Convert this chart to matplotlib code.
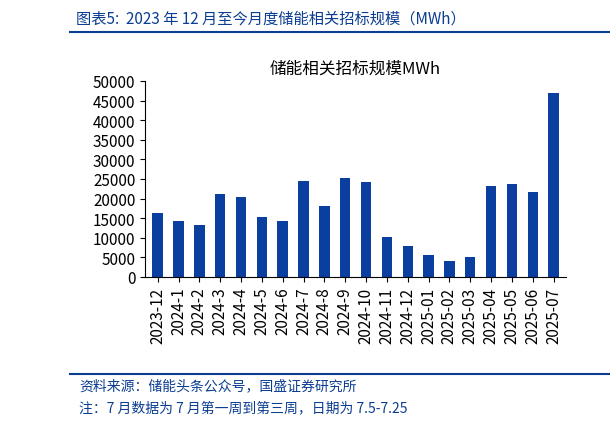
import matplotlib
matplotlib.use("Agg")
import matplotlib.pyplot as plt

plt.rcParams['font.family'] = ['Noto Sans CJK SC', 'DejaVu Sans']

months = ["2023-12", "2024-1", "2024-2", "2024-3", "2024-4", "2024-5", "2024-6",
          "2024-7", "2024-8", "2024-9", "2024-10", "2024-11", "2024-12",
          "2025-01", "2025-02", "2025-03", "2025-04", "2025-05", "2025-06", "2025-07"]
mwh = [16200, 14400, 13300, 21100, 20400, 15300, 14300, 24500, 18000, 25200,
       24200, 10200, 7800, 5600, 4000, 5000, 23200, 23700, 21600, 47000]

blue = "#0b3d91"
fig = plt.figure(figsize=(6.1, 4.27), dpi=100)
ax = fig.add_axes([0.238, 0.349, 0.69, 0.459])
ax.bar(range(len(months)), mwh, width=0.5, color="#0a3fa0")
ax.set_xlim(-0.6, len(months) - 0.4)
ax.set_ylim(0, 50000)
ax.set_yticks(range(0, 50001, 5000))
ax.set_xticks(range(len(months)))
ax.set_xticklabels(months, rotation=90, fontsize=11)
ax.tick_params(axis='y', labelsize=11)
for s in ["top", "right"]:
    ax.spines[s].set_visible(False)
ax.set_title("储能相关招标规模MWh", fontsize=12, pad=6)

fig.text(0.125, 0.955, "图表5:  2023 年 12 月至今月度储能相关招标规模（MWh）",
         fontsize=11, style="italic", color=blue, va="center")
fig.add_artist(plt.Line2D([0.115, 1.0], [0.922, 0.922], color=blue, lw=1.5))
fig.add_artist(plt.Line2D([0.115, 1.0], [0.122, 0.122], color=blue, lw=1.5))
fig.text(0.13, 0.095, "资料来源：储能头条公众号，国盛证券研究所", fontsize=10,
         style="italic", color=blue, va="center")
fig.text(0.13, 0.043, "注：7 月数据为 7 月第一周到第三周，日期为 7.5-7.25", fontsize=10,
         style="italic", color=blue, va="center")
fig.savefig("out.png", dpi=100)
